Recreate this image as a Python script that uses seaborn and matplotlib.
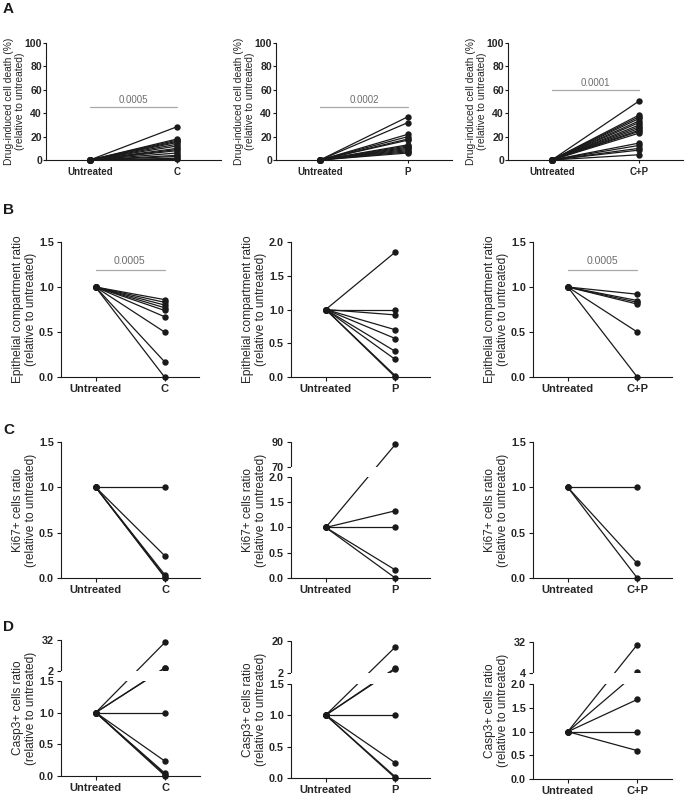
import numpy as np
import pandas as pd
import matplotlib
matplotlib.use("Agg")
import matplotlib.pyplot as plt
import seaborn as sns

W, H = 685, 796

# ── A: drug-induced cell death (%) ─────────────────────────
death_untr_c = [0, 0, 0, 0, 0, 0, 0, 0, 0, 0, 0, 0, 0, 0, 0]
death_c = [28.5, 18, 17, 16, 15, 13.5, 12, 10, 9, 8, 6, 4, 3, 1.5, 0.5]
death_untr_p = [0, 0, 0, 0, 0, 0, 0, 0, 0, 0, 0, 0, 0, 0]
death_p = [37, 32, 22, 20, 18, 17, 13, 12, 11, 10, 9, 8, 7, 6]
death_untr_cp = [0, 0, 0, 0, 0, 0, 0, 0, 0, 0, 0, 0, 0, 0, 0, 0, 0]
death_cp = [50.5, 38.5, 37, 35.5, 33.5, 32, 30, 28.5, 27, 25.5, 24.5, 23,
            14.5, 12.5, 10, 8.5, 4.5]

# ── B: epithelial compartment ratio ────────────────────────
epi_untr_c = [1, 1, 1, 1, 1, 1, 1, 1, 1]
epi_c = [0.86, 0.83, 0.80, 0.77, 0.74, 0.67, 0.50, 0.17, 0.0]
epi_untr_p = [1, 1, 1, 1, 1, 1, 1, 1, 1]
epi_p = [1.85, 1.0, 0.92, 0.70, 0.57, 0.38, 0.26, 0.02, 0.0]
epi_untr_cp = [1, 1, 1, 1, 1, 1]
epi_cp = [0.92, 0.85, 0.83, 0.81, 0.50, 0.0]

# ── C: Ki67+ cells ratio ───────────────────────────────────
ki_untr_c = [1, 1, 1, 1, 1]
ki_c = [1.0, 0.24, 0.03, 0.01, 0.0]
ki_untr_p = [1, 1, 1, 1, 1]
ki_p = [88, 1.33, 1.0, 0.16, 0.0]
ki_untr_cp = [1, 1, 1]
ki_cp = [1.0, 0.16, 0.0]

# ── D: Casp3+ cells ratio ──────────────────────────────────
casp_untr_c = [1, 1, 1, 1, 1, 1, 1, 1]
casp_c = [30, 5.5, 5.0, 1.0, 0.23, 0.04, 0.02, 0.0]
casp_untr_p = [1, 1, 1, 1, 1, 1, 1]
casp_p = [16.6, 4.8, 4.2, 1.0, 0.24, 0.02, 0.0]
casp_untr_cp = [1, 1, 1, 1, 1]
casp_cp = [29.6, 4.9, 1.68, 1.0, 0.6]

GROUPS = ["C", "P", "C+P"]
P_TEXT_A = ["0.0005", "0.0002", "0.0001"]
P_HEIGHT_A = [45, 45, 60]
P_TEXT_B = ["0.0005", None, "0.0005"]
P_HEIGHT_B = [1.19, None, 1.19]

YLAB_A = "Drug-induced cell death (%)\n(relative to untreated)"
YLAB_B = "Epithelial compartment ratio\n(relative to untreated)"
YLAB_C = "Ki67+ cells ratio\n(relative to untreated)"
YLAB_D = "Casp3+ cells ratio\n(relative to untreated)"

INK = "#1a1a1a"
GREY = "#a8a8a8"


def paired_frame(before, after):
    n = len(after)
    return pd.DataFrame({
        "subject": list(range(n)) * 2,
        "x": [0] * n + [1] * n,
        "value": list(before) + list(after),
    })


def piecewise(src, dst):
    src = np.asarray(src, float)
    dst = np.asarray(dst, float)

    def f(v):
        v = np.asarray(v, float)
        out = np.interp(v, src, dst)
        lo_slope = (dst[1] - dst[0]) / (src[1] - src[0])
        hi_slope = (dst[-1] - dst[-2]) / (src[-1] - src[-2])
        out = np.where(v < src[0], dst[0] + (v - src[0]) * lo_slope, out)
        out = np.where(v > src[-1], dst[-1] + (v - src[-1]) * hi_slope, out)
        return out
    return f


def add_axes_px(fig, left, top, right, bottom):
    return fig.add_axes([left / W, 1 - bottom / H, (right - left) / W, (bottom - top) / H])


def draw_panel(ax, before, after, group, ylabel, yticks, yticklabels, ylim,
               brk=None, ptext=None, pheight=None, ylab_size=8.6,
               xtick_size=8, ytick_size=7.8, p_size=7.6, p_off=2.5,
               tick_len=2.7, tick_pad=2.5, labelpad=1, linespacing=1.1):
    df = paired_frame(before, after)

    if brk is not None:
        # brk = (lower_top, upper_bottom, frac_lower, frac_gap)
        lo_top, hi_bot, f_lo, f_gap = brk
        src = [0, lo_top, hi_bot, ylim[1]]
        dst = [0, f_lo, f_lo + f_gap, 1]
        ax.set_yscale("function", functions=(piecewise(src, dst), piecewise(dst, src)))

    sns.lineplot(data=df, x="x", y="value", units="subject", estimator=None,
                 sort=False, color=INK, marker="o", markersize=4.6,
                 markeredgewidth=0, linewidth=0.9, legend=False, ax=ax,
                 clip_on=False, zorder=3)

    ax.set_xlim(-0.5, 1.5)
    ax.set_ylim(*ylim)
    ax.set_xticks([0, 1])
    ax.set_xticklabels(["Untreated", group], fontweight="bold", fontsize=xtick_size)
    ax.set_yticks(yticks)
    ax.set_yticklabels(yticklabels, fontweight="bold", fontsize=ytick_size)
    ax.yaxis.set_minor_locator(matplotlib.ticker.NullLocator())
    ax.set_xlabel("")
    ax.set_ylabel(ylabel, fontsize=ylab_size, linespacing=linespacing, labelpad=labelpad)
    ax.tick_params(axis="y", length=tick_len, width=0.8, color=INK, pad=tick_pad)
    ax.tick_params(axis="x", length=tick_len, width=0.8, color=INK, pad=2.5)
    sns.despine(ax=ax)
    for side in ["left", "bottom"]:
        ax.spines[side].set_color(INK)
        ax.spines[side].set_linewidth(0.8)

    if brk is not None:
        lo_top, hi_bot, _, _ = brk
        ax.spines["left"].set_visible(False)
        tr = ax.get_yaxis_transform()
        ax.plot([0, 0], [0, lo_top], transform=tr, color=INK, lw=0.8, clip_on=False)
        ax.plot([0, 0], [hi_bot, ylim[1]], transform=tr, color=INK, lw=0.8, clip_on=False)
        ax.axhspan(lo_top, hi_bot, color="white", lw=0, zorder=3.5)

    if ptext is not None:
        ax.plot([0, 1], [pheight, pheight], color=GREY, lw=0.9)
        ax.annotate(ptext, xy=(0.5, pheight), xytext=(0, p_off),
                    textcoords="offset points", ha="center", va="bottom",
                    fontsize=p_size, color="#6e6e6e")


sns.set_theme(style="ticks")
plt.rcParams["font.family"] = ["Liberation Sans", "DejaVu Sans"]

fig = plt.figure(figsize=(W / 100, H / 100), dpi=100)

# Row A
a_rects = [(46, 43, 221, 160), (276, 43, 452, 160), (508, 43, 683, 160)]
a_data = [(death_untr_c, death_c), (death_untr_p, death_p), (death_untr_cp, death_cp)]
for i in range(3):
    ax = add_axes_px(fig, *a_rects[i])
    draw_panel(ax, a_data[i][0], a_data[i][1], GROUPS[i], YLAB_A,
               [0, 20, 40, 60, 80, 100], ["0", "20", "40", "60", "80", "100"], (0, 100),
               ptext=P_TEXT_A[i], pheight=P_HEIGHT_A[i], ylab_size=7.4,
               xtick_size=7, ytick_size=7.6, p_size=7, p_off=1.5,
               tick_len=2.2, tick_pad=0.6, labelpad=-0.5, linespacing=1.2)

# Row B
b_rects = [(61, 242, 199, 377), (291, 242, 430, 377), (533, 242, 672, 377)]
b_data = [(epi_untr_c, epi_c), (epi_untr_p, epi_p), (epi_untr_cp, epi_cp)]
b_ticks = [[0, 0.5, 1.0, 1.5], [0, 0.5, 1.0, 1.5, 2.0], [0, 0.5, 1.0, 1.5]]
for i in range(3):
    ax = add_axes_px(fig, *b_rects[i])
    draw_panel(ax, b_data[i][0], b_data[i][1], GROUPS[i], YLAB_B,
               b_ticks[i], [f"{t:.1f}" for t in b_ticks[i]], (0, b_ticks[i][-1]),
               ptext=P_TEXT_B[i], pheight=P_HEIGHT_B[i])

# Row C
c_rects = [(61, 442, 200, 578), (291, 442, 430, 578), (533, 442, 672, 578)]
c_data = [(ki_untr_c, ki_c), (ki_untr_p, ki_p), (ki_untr_cp, ki_cp)]
for i in range(3):
    ax = add_axes_px(fig, *c_rects[i])
    if i == 1:
        draw_panel(ax, c_data[i][0], c_data[i][1], GROUPS[i], YLAB_C,
                   [0, 0.5, 1.0, 1.5, 2.0, 70, 90],
                   ["0.0", "0.5", "1.0", "1.5", "2.0", "70", "90"], (0, 90),
                   brk=(2.0, 70, 0.743, 0.074))
    else:
        draw_panel(ax, c_data[i][0], c_data[i][1], GROUPS[i], YLAB_C,
                   [0, 0.5, 1.0, 1.5], ["0.0", "0.5", "1.0", "1.5"], (0, 1.5))

# Row D
d_rects = [(61, 640, 200, 776), (291, 641, 430, 778), (533, 642, 672, 779)]
d_data = [(casp_untr_c, casp_c), (casp_untr_p, casp_p), (casp_untr_cp, casp_cp)]
d_ticks = [[0, 0.5, 1.0, 1.5, 2, 32], [0, 0.5, 1.0, 1.5, 2, 20],
           [0, 0.5, 1.0, 1.5, 2.0, 4, 32]]
d_labels = [["0.0", "0.5", "1.0", "1.5", "2", "32"],
            ["0.0", "0.5", "1.0", "1.5", "2", "20"],
            ["0.0", "0.5", "1.0", "1.5", "2.0", "4", "32"]]
d_breaks = [(1.5, 2, 0.70, 0.071), (1.5, 2, 0.689, 0.077), (2.0, 4, 0.691, 0.080)]
d_tops = [32, 20, 32]
for i in range(3):
    ax = add_axes_px(fig, *d_rects[i])
    draw_panel(ax, d_data[i][0], d_data[i][1], GROUPS[i], YLAB_D,
               d_ticks[i], d_labels[i], (0, d_tops[i]), brk=d_breaks[i])

# panel letters
for letter, ypx in [("A", 2), ("B", 203), ("C", 423), ("D", 620)]:
    fig.text(3 / W, 1 - ypx / H, letter, fontsize=11, fontweight="bold",
             va="top", ha="left", color=INK)

fig.savefig("out.png", dpi=100)
